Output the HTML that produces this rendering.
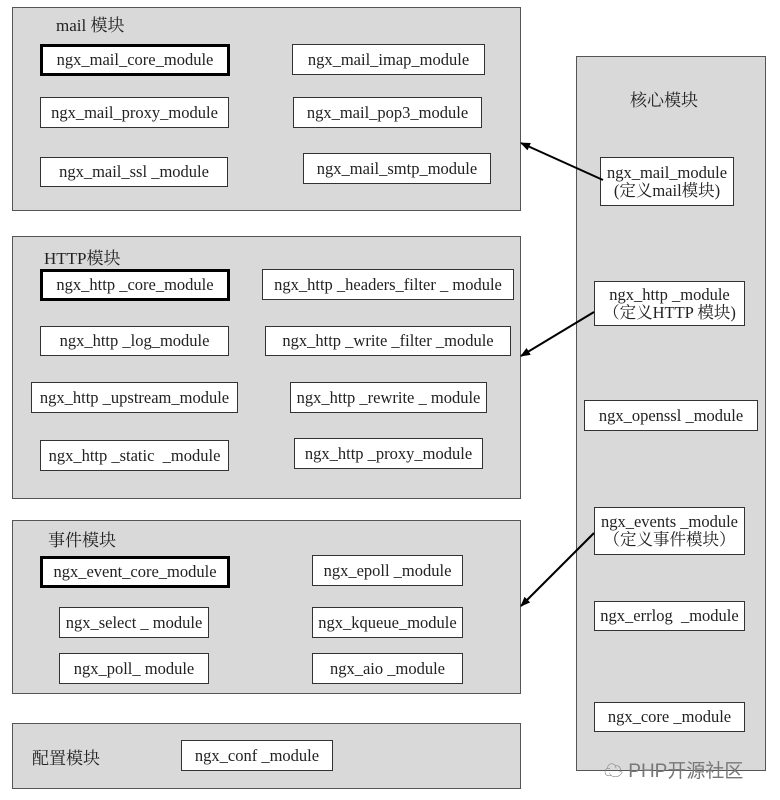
<!DOCTYPE html>
<html><head><meta charset="utf-8"><style>
body{margin:0;width:780px;height:800px;background:#fff;position:relative;overflow:hidden;font-family:"Liberation Serif","Noto Serif CJK SC",serif;}
.g{position:absolute;background:#d9d9d9;border:1.5px solid #555;box-sizing:border-box;}
.b{position:absolute;background:#fff;border:1.5px solid #333;box-sizing:border-box;font-size:16.5px;color:#222;display:flex;align-items:center;justify-content:center;text-align:center;line-height:18px;white-space:nowrap;}
.t{border:3px solid #000;}
.l{position:absolute;font-size:17px;color:#222;}
</style></head><body>
<div class="g" style="left:12px;top:7px;width:509px;height:204px"></div>
<div class="g" style="left:12px;top:236px;width:509px;height:263px"></div>
<div class="g" style="left:12px;top:520px;width:509px;height:174px"></div>
<div class="g" style="left:12px;top:723px;width:509px;height:66px"></div>
<div class="g" style="left:576px;top:56px;width:190px;height:715px"></div>
<div class="l" style="left:56px;top:11px">mail 模块</div>
<div class="l" style="left:44px;top:244px">HTTP模块</div>
<div class="l" style="left:48px;top:526px">事件模块</div>
<div class="l" style="left:32px;top:744px">配置模块</div>
<div class="l" style="left:630px;top:86px">核心模块</div>

<div class="b t" style="left:40px;top:44px;width:190px;height:32px">ngx_mail_core_module</div>
<div class="b" style="left:292px;top:44px;width:193px;height:31px">ngx_mail_imap_module</div>
<div class="b" style="left:40px;top:97px;width:189px;height:31px">ngx_mail_proxy_module</div>
<div class="b" style="left:293px;top:97px;width:189px;height:31px">ngx_mail_pop3_module</div>
<div class="b" style="left:40px;top:157px;width:188px;height:30px">ngx_mail_ssl _module</div>
<div class="b" style="left:303px;top:153px;width:188px;height:31px">ngx_mail_smtp_module</div>

<div class="b t" style="left:40px;top:269px;width:190px;height:32px">ngx_http _core_module</div>
<div class="b" style="left:262px;top:269px;width:252px;height:31px">ngx_http _headers_filter _ module</div>
<div class="b" style="left:40px;top:326px;width:189px;height:30px">ngx_http _log_module</div>
<div class="b" style="left:265px;top:326px;width:246px;height:30px">ngx_http _write _filter _module</div>
<div class="b" style="left:31px;top:382px;width:207px;height:31px">ngx_http _upstream_module</div>
<div class="b" style="left:290px;top:382px;width:197px;height:31px">ngx_http _rewrite _ module</div>
<div class="b" style="left:40px;top:440px;width:189px;height:31px">ngx_http _static &nbsp;_module</div>
<div class="b" style="left:294px;top:438px;width:189px;height:31px">ngx_http _proxy_module</div>

<div class="b t" style="left:40px;top:556px;width:190px;height:32px">ngx_event_core_module</div>
<div class="b" style="left:312px;top:555px;width:151px;height:31px">ngx_epoll _module</div>
<div class="b" style="left:59px;top:607px;width:150px;height:31px">ngx_select _ module</div>
<div class="b" style="left:312px;top:607px;width:151px;height:31px">ngx_kqueue_module</div>
<div class="b" style="left:59px;top:653px;width:150px;height:31px">ngx_poll_ module</div>
<div class="b" style="left:312px;top:653px;width:151px;height:31px">ngx_aio _module</div>
<div class="b" style="left:181px;top:740px;width:152px;height:31px">ngx_conf _module</div>

<div class="b" style="left:600px;top:157px;width:134px;height:49px">ngx_mail_module<br>(定义mail模块)</div>
<div class="b" style="left:594px;top:281px;width:151px;height:45px">ngx_http _module<br>（定义HTTP 模块)</div>
<div class="b" style="left:584px;top:400px;width:174px;height:31px">ngx_openssl _module</div>
<div class="b" style="left:594px;top:507px;width:151px;height:48px">ngx_events _module<br>（定义事件模块）</div>
<div class="b" style="left:594px;top:601px;width:151px;height:30px">ngx_errlog &nbsp;_module</div>
<div class="b" style="left:594px;top:702px;width:151px;height:30px">ngx_core _module</div>

<div style="position:absolute;left:604px;top:756px;font-family:'Liberation Sans','Noto Sans CJK SC',sans-serif;font-size:19px;color:#777;white-space:nowrap">☁ PHP开源社区</div>

<svg width="780" height="800" style="position:absolute;left:0;top:0">
<defs><marker id="a" markerWidth="10" markerHeight="8" refX="9" refY="4" orient="auto" markerUnits="userSpaceOnUse"><path d="M0,0 L10,4 L0,8 z" fill="#000"/></marker></defs>
<g stroke="#000" stroke-width="2" marker-end="url(#a)">
<line x1="603" y1="180" x2="521" y2="143"/>
<line x1="594" y1="312" x2="521" y2="356"/>
<line x1="594" y1="533" x2="521" y2="606"/>
</g></svg>
</body></html>
